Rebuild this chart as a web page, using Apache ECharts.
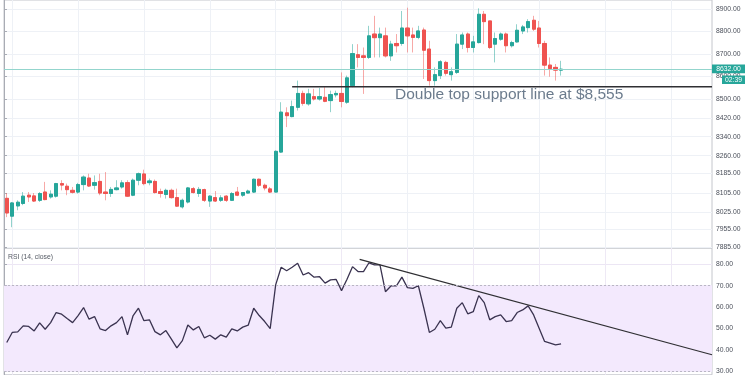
<!DOCTYPE html>
<html><head><meta charset="utf-8">
<script src="https://cdn.jsdelivr.net/npm/echarts@6/dist/echarts.min.js"></script>
<style>html,body{margin:0;padding:0;background:#fff}#c{width:750px;height:375px}</style>
</head><body><div id="c"></div>
<script>
// ---- data ----
const open  = [8082,8009,8051,8061,8095,8092,8074,8108,8088,8091,8143,8132,8115,8108,8139,8166,8136,8152,8108,8102,8118,8129,8147,8095,8157,8183,8147,8152,8110,8098,8115,8085,8047,8067,8122,8102,8118,8071,8085,8074,8091,8074,8108,8095,8104,8108,8161,8136,8121,8108,8275,8442,8426,8466,8526,8481,8512,8502,8509,8495,8520,8526,8488,8560,8696,8691,8684,8788,8772,8780,8691,8746,8746,8815,8784,8773,8806,8721,8582,8604,8662,8608,8618,8743,8788,8728,8750,8877,8847,8743,8765,8788,8736,8753,8802,8817,8850,8815,8746,8650,8640,8628];
const close = [8022,8063,8066,8091,8088,8071,8102,8077,8099,8143,8137,8118,8107,8139,8170,8133,8147,8104,8102,8119,8125,8146,8091,8157,8184,8143,8154,8106,8102,8115,8085,8050,8074,8125,8106,8119,8074,8091,8071,8084,8074,8102,8095,8106,8112,8161,8136,8125,8108,8278,8445,8430,8469,8526,8483,8524,8502,8512,8492,8521,8526,8491,8594,8701,8684,8684,8780,8772,8788,8691,8743,8736,8815,8780,8773,8802,8716,8582,8608,8665,8614,8621,8743,8784,8728,8753,8877,8844,8728,8768,8788,8736,8750,8805,8820,8844,8810,8746,8650,8635,8628,8632];
const high  = [8103,8067,8074,8108,8108,8104,8108,8150,8115,8146,8157,8143,8129,8146,8177,8184,8177,8184,8191,8129,8157,8157,8157,8164,8189,8201,8164,8160,8122,8122,8122,8122,8081,8129,8129,8129,8122,8095,8112,8095,8095,8108,8129,8108,8118,8164,8164,8143,8129,8282,8488,8466,8495,8582,8538,8546,8546,8550,8553,8538,8538,8618,8604,8743,8743,8728,8825,8870,8817,8817,8758,8788,8892,8907,8817,8825,8817,8758,8640,8672,8669,8640,8788,8795,8795,8780,8904,8892,8847,8795,8795,8795,8758,8832,8829,8855,8870,8847,8758,8684,8655,8669];
const low   = [8005,7964,8033,8054,8067,8067,8067,8074,8081,8085,8115,8095,8102,8102,8115,8129,8118,8095,8074,8088,8115,8122,8088,8091,8136,8136,8136,8102,8085,8081,8081,8047,8040,8061,8102,8088,8067,8047,8067,8067,8067,8071,8091,8088,8102,8104,8129,8115,8104,8107,8272,8381,8423,8452,8473,8473,8495,8495,8488,8445,8509,8466,8481,8553,8640,8524,8677,8684,8684,8684,8669,8706,8736,8706,8706,8765,8589,8560,8560,8589,8604,8582,8611,8721,8706,8706,8746,8743,8721,8662,8758,8706,8728,8750,8788,8795,8802,8728,8604,8599,8582,8604];
const rsi   = [43.5,48.2,48.5,51.3,51.0,48.9,52.7,49.7,52.8,57.5,
               56.7,54.7,52.8,56.1,59.8,54.4,55.6,49.9,49.1,51.3,
               52.8,55.6,47.1,55.9,59.5,53.7,54.1,48.6,47.1,49.1,
               45.1,41.0,44.4,51.7,49.4,51.0,45.7,46.9,45.1,47.1,
               46.0,49.9,48.9,50.7,51.6,59.5,56.1,53.3,50.0,70.4,
               78.6,77.0,78.6,80.5,75.0,76.1,74.0,74.2,71.2,72.7,
               73.0,67.7,73.0,78.9,76.6,76.6,80.7,79.7,79.7,67.2,
               69.9,69.9,74.0,69.1,68.8,70.0,59.5,48.2,49.7,53.7,
               50.2,50.7,59.5,62.1,56.9,57.9,65.4,62.1,54.1,55.6,
               56.4,53.3,53.7,57.5,58.7,60.6,56.4,50.2,44.0,43.2,
               42.4,42.9];
const priceTicks = [8900,8800,8700,8600,8500,8420,8340,8260,8185,8105,8025,7955,7885];
const rsiTicks = [30,40,50,60,70,80];
const lastPrice = 8632;
const lastPriceText = '8632.00';
const countdownText = '02:39';
const supportLevel = 8555;
const supportLine = [[52.5, supportLevel],[129, supportLevel]];
const rsiTrend = [[64.8, 82.3],[129, 37.8]];
const rsiBand = [30, 70];
const slots = 129;

// ---- build ----
const cats = Array.from({length: slots}, (_, i) => 'b' + i);
const ohlc = open.map((o, i) => [o, close[i], low[i], high[i]]);
const bodies = open.map((o, i) => [o, close[i], Math.min(o, close[i]), Math.max(o, close[i])]);
const UP = '#26a69a', DOWN = '#ef5350';
const FONT = '"Liberation Sans", Arial, sans-serif';
const gridFn = (idx) => idx % 12 === 1;

const chart = echarts.init(document.getElementById('c'), null, {renderer: 'canvas'});
chart.setOption({
  animation: false,
  backgroundColor: '#ffffff',
  textStyle: {fontFamily: FONT},
  grid: [
    {left: 4, right: 38, top: -1, height: 249, show: true, borderColor: '#c4c6cc', borderWidth: 1},
    {left: 4, right: 38, top: 248, bottom: 0, show: true, borderColor: '#c4c6cc', borderWidth: 1}
  ],
  xAxis: [
    {type: 'category', gridIndex: 0, data: cats, boundaryGap: true,
     axisLine: {show: false}, axisTick: {show: false}, axisLabel: {show: false},
     splitLine: {show: true, interval: gridFn, alignWithLabel: true, lineStyle: {color: '#eef1f6', width: 1}}},
    {type: 'category', gridIndex: 1, data: cats, boundaryGap: true,
     axisLine: {show: false}, axisTick: {show: false}, axisLabel: {show: false},
     splitLine: {show: true, interval: gridFn, alignWithLabel: true, lineStyle: {color: '#eee9f5', width: 1}}},
    {type: 'value', gridIndex: 0, min: 0, max: slots, show: false},
    {type: 'value', gridIndex: 1, min: 0, max: slots, show: false}
  ],
  yAxis: [
    {type: 'log', logBase: 10, gridIndex: 0, position: 'right', min: 7880, max: 8942,
     axisLine: {show: true, lineStyle: {color: '#a9acb4'}},
     axisTick: {show: true, length: 3, customValues: priceTicks, lineStyle: {color: '#a9acb4'}},
     axisLabel: {customValues: priceTicks, formatter: v => Number(v).toFixed(2), fontSize: 6.8, color: '#4a4f5a', margin: 4, fontFamily: FONT},
     splitLine: {show: true, lineStyle: {color: '#eef1f6', width: 1}}},
    {type: 'value', gridIndex: 1, position: 'right', min: 28.46, max: 87.59,
     axisLine: {show: true, lineStyle: {color: '#a9acb4'}},
     axisTick: {show: true, length: 3, customValues: rsiTicks, lineStyle: {color: '#a9acb4'}},
     axisLabel: {customValues: rsiTicks, formatter: v => Number(v).toFixed(2), fontSize: 6.8, color: '#4a4f5a', margin: 4, fontFamily: FONT},
     splitLine: {show: true, lineStyle: {color: '#ece6f4', width: 1}}}
  ],
  series: [
    {type: 'candlestick', name: 'wicks', xAxisIndex: 0, yAxisIndex: 0, data: ohlc, barWidth: '68%',
     itemStyle: {color: 'rgba(0,0,0,0)', color0: 'rgba(0,0,0,0)', borderColor: 'rgba(38,166,154,0.5)', borderColor0: 'rgba(239,83,80,0.5)', borderWidth: 1},
     silent: true},
    {type: 'candlestick', name: 'bodies', xAxisIndex: 0, yAxisIndex: 0, data: bodies, barWidth: '68%',
     itemStyle: {color: UP, color0: DOWN, borderColor: UP, borderColor0: DOWN, borderWidth: 1},
     markLine: {symbol: 'none', silent: true, label: {show: false},
       lineStyle: {color: '#93d5cd', type: 'solid', width: 1},
       data: [{yAxis: lastPrice}]}},
    {type: 'line', name: 'support', xAxisIndex: 2, yAxisIndex: 0, data: supportLine, symbol: 'none',
     lineStyle: {color: '#2f2f33', width: 1.4}, silent: true},
    {type: 'line', name: 'RSI', xAxisIndex: 1, yAxisIndex: 1, data: rsi, symbol: 'none',
     lineStyle: {color: '#3a3350', width: 1.3}, silent: true,
     markArea: {silent: true, itemStyle: {color: '#f3e9fd'}, data: [[{yAxis: rsiBand[0]}, {yAxis: rsiBand[1]}]]},
     markLine: {symbol: 'none', silent: true, label: {show: false},
       lineStyle: {color: '#b9b6c4', type: [2, 2], width: 1},
       data: [{yAxis: rsiBand[0]}, {yAxis: rsiBand[1]}]}},
    {type: 'line', name: 'RSI trend', xAxisIndex: 3, yAxisIndex: 1, data: rsiTrend, symbol: 'none',
     lineStyle: {color: '#2f2f33', width: 1.2}, silent: true}
  ]
});

// annotations; the price tag boxes are placed at the last price through the axis scale
const py = chart.convertToPixel({yAxisIndex: 0}, lastPrice);
chart.setOption({
  graphic: [
    {id: 'rsiTitle', type: 'text', left: 8, top: 254, style: {text: 'RSI (14, close)', fontSize: 6.8, fill: '#555a64', fontFamily: FONT}},
    {id: 'supportText', type: 'text', x: 395, y: 95, style: {text: 'Double top support line at $8,555', fontSize: 15.5, fill: '#6b7b8d', verticalAlign: 'middle', fontFamily: FONT}},
    {id: 'rsiText', type: 'text', x: 560, y: 310, style: {text: 'RSI trendline', fontSize: 15.5, fill: '#7d83b3', verticalAlign: 'middle', fontFamily: FONT}},
    {id: 'priceTag', type: 'group', z: 100, children: [
      {type: 'rect', shape: {x: 712, y: py - 4.8, width: 33, height: 8.8}, style: {fill: UP}, z: 100},
      {type: 'text', x: 728.5, y: py - 0.3, style: {text: lastPriceText, fill: '#fff', fontSize: 6.8, align: 'center', verticalAlign: 'middle', fontFamily: FONT}, z: 101},
      {type: 'rect', shape: {x: 722, y: py + 6.3, width: 23, height: 8.5}, style: {fill: UP}, z: 100},
      {type: 'text', x: 733.5, y: py + 10.6, style: {text: countdownText, fill: '#fff', fontSize: 6.8, align: 'center', verticalAlign: 'middle', fontFamily: FONT}, z: 101}
    ]}
  ]
});
</script>
</body></html>
